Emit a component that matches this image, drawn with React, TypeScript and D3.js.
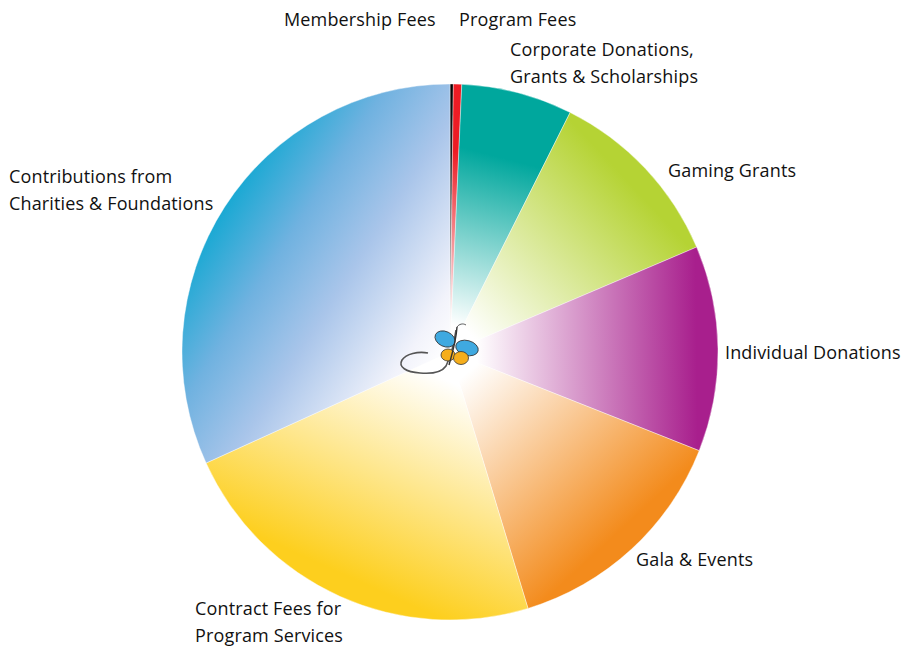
import React from "react";
import * as d3 from "d3";

const categories = [
  "Membership Fees",
  "Program Fees",
  "Corporate Donations, Grants & Scholarships",
  "Gaming Grants",
  "Individual Donations",
  "Gala & Events",
  "Contract Fees for Program Services",
  "Contributions from Charities & Foundations",
];
const values = [0.2, 0.5, 6.7, 11.2, 12.4, 14.3, 22.9, 31.8];
const colors = ["#111111", "#ed1c24", "#00a79d", "#b5d334", "#a81f8d", "#f38b1c", "#fdcf1e", "#13a6d4"];
const labelLines = [
  ["Membership Fees"],
  ["Program Fees"],
  ["Corporate Donations,", "Grants & Scholarships"],
  ["Gaming Grants"],
  ["Individual Donations"],
  ["Gala & Events"],
  ["Contract Fees for", "Program Services"],
  ["Contributions from", "Charities & Foundations"],
];
const labelPos: [number, number][] = [
  [284, 26],
  [459, 26],
  [510, 56],
  [668, 177],
  [725, 359],
  [636, 566],
  [195, 615],
  [9, 183],
];

const W = 904;
const H = 647;
const cx = 450;
const cy = 352;
const R = 268;

export default function App() {
  const pie = d3.pie<number>().sort(null).value((d) => d);
  const arcs = pie(values);
  const arcGen = d3.arc<d3.PieArcDatum<number>>().innerRadius(0).outerRadius(R);

  return (
    <svg width={W} height={H} style={{ position: "absolute", left: 0, top: 0 }}>
      <defs>
        {arcs.map((a, i) => {
          const mid = (a.startAngle + a.endAngle) / 2;
          const x2 = Math.sin(mid) * R;
          const y2 = -Math.cos(mid) * R;
          if (i === 7) {
            return (
              <linearGradient key={i} id={`g${i}`} gradientUnits="userSpaceOnUse" x1={0} y1={0} x2={x2 * 1.05} y2={y2 * 1.05}>
                <stop offset="0" stopColor="#ffffff" />
                <stop offset="0.12" stopColor="#f2f3fb" />
                <stop offset="0.45" stopColor="#a9c5ea" />
                <stop offset="0.7" stopColor="#70b2e0" />
                <stop offset="1" stopColor="#0aa7d1" />
              </linearGradient>
            );
          }
          if (i === 0) {
            return (
              <linearGradient key={i} id={`g${i}`} gradientUnits="userSpaceOnUse" x1={0} y1={0} x2={x2} y2={y2}>
                <stop offset="0" stopColor="#bbbbbb" />
                <stop offset="0.5" stopColor="#444444" />
                <stop offset="1" stopColor="#000000" />
              </linearGradient>
            );
          }
          return (
            <linearGradient key={i} id={`g${i}`} gradientUnits="userSpaceOnUse" x1={0} y1={0} x2={x2} y2={y2}>
              <stop offset="0" stopColor="#ffffff" />
              <stop offset="0.1" stopColor="#ffffff" />
              <stop offset={i === 2 || i === 1 ? "0.75" : "0.92"} stopColor={colors[i]} />
              <stop offset="1" stopColor={colors[i]} />
            </linearGradient>
          );
        })}
      </defs>
      <g transform={`translate(${cx},${cy})`}>
        {arcs.map((a, i) => (
          <path key={i} d={arcGen(a) || ""} fill={`url(#g${i})`} stroke="#ffffff" strokeWidth={0.4} />
        ))}
        {/* butterfly logo */}
        <g>
          <path
            d="M6,-22 C4,-8 0,6 -4,14 C-8,20 -18,22 -30,21 C-44,20 -52,15 -48,8 C-44,2 -32,-1 -22,1"
            fill="none"
            stroke="#555"
            strokeWidth={1.6}
          />
          <ellipse cx={-5} cy={-13} rx={10.5} ry={7.5} transform="rotate(25,-5,-13)" fill="#3fa9e0" stroke="#333" strokeWidth={0.8} />
          <ellipse cx={17} cy={-4} rx={11.5} ry={7.5} transform="rotate(15,17,-4)" fill="#3fa9e0" stroke="#333" strokeWidth={0.8} />
          <ellipse cx={-2} cy={3} rx={7} ry={6} fill="#f5ae1c" stroke="#333" strokeWidth={0.8} />
          <ellipse cx={11} cy={6} rx={7.5} ry={6.5} fill="#f5ae1c" stroke="#333" strokeWidth={0.8} />
          <path d="M7,-25 C6,-10 2,2 -1,13" fill="none" stroke="#333" strokeWidth={1.4} />
          <path d="M7,-25 C9,-28 13,-29 16,-27" fill="none" stroke="#333" strokeWidth={0.8} />
        </g>
      </g>
      <g fontFamily="'Open Sans', 'Noto Sans', sans-serif" fontSize={18} letterSpacing={0.15} fill="#111">
        {labelLines.map((lines, i) => (
          <text key={i} x={labelPos[i][0]} y={labelPos[i][1]}>
            {lines.map((l, j) => (
              <tspan key={j} x={labelPos[i][0]} dy={j === 0 ? 0 : 26.5}>
                {l}
              </tspan>
            ))}
          </text>
        ))}
      </g>
    </svg>
  );
}
